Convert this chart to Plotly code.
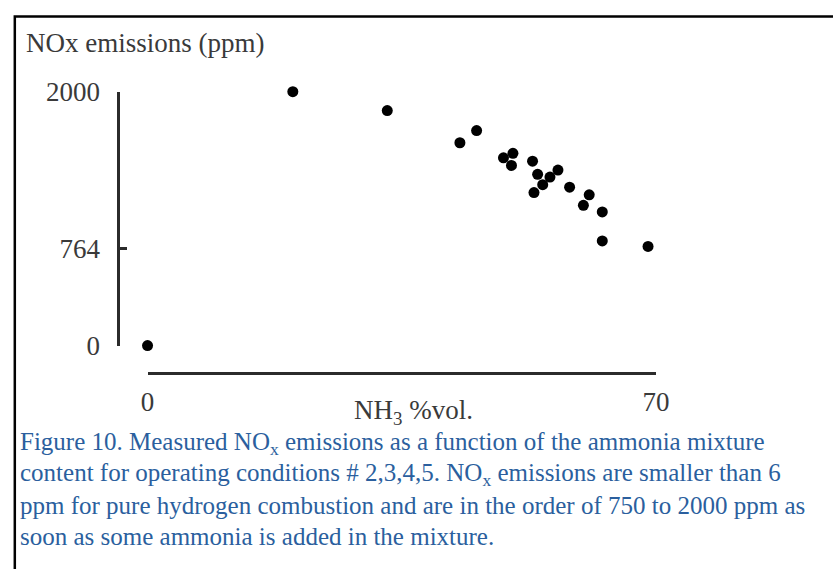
import plotly.graph_objects as go

# Data
nh3_vol = [0, 20.0, 31.9, 33.0, 43.0, 45.3, 49.0, 50.3, 50.1, 53.0, 53.2,
           53.7, 54.4, 55.4, 56.5, 58.1, 60.8, 60.0, 62.6, 62.6, 68.9]
nox_ppm = [0, 2000, 2078, 1852, 1598, 1694, 1479, 1515, 1419, 1453, 1206,
           1349, 1268, 1328, 1383, 1248, 1188, 1105, 1053, 825, 781]
y_ticks = [0, 764, 2000]
x_ticks = [0, 70]

caption_lines = [
    "Figure 10. Measured NO<sub>x</sub> emissions as a function of the ammonia mixture",
    "content for operating conditions # 2,3,4,5. NO<sub>x</sub> emissions are smaller than 6",
    "ppm for pure hydrogen combustion and are in the order of 750 to 2000 ppm as",
    "soon as some ammonia is added in the mixture.",
]

W, H = 833, 569
def px(x):
    return x / W
def py(y):
    return 1 - y / H

FONT = "Liberation Serif, Times New Roman, serif"
AX_COLOR = "#2b2b2b"
TXT_COLOR = "#3a3a3a"
CAP_COLOR = "#2b5f9e"

fig = go.Figure()
fig.add_trace(go.Scatter(
    x=nh3_vol, y=nox_ppm, mode="markers",
    marker=dict(color="black", size=11, line=dict(width=0)),
    cliponaxis=False, showlegend=False,
))

fig.update_layout(
    width=W, height=H,
    margin=dict(l=0, r=0, t=0, b=0),
    paper_bgcolor="white", plot_bgcolor="white",
    font=dict(family=FONT, color=TXT_COLOR),
    xaxis=dict(
        domain=[px(144), px(665)], range=[0, 70],
        anchor="free", position=py(378),
        showgrid=False, zeroline=False,
        showline=True, linecolor=AX_COLOR, linewidth=2.5,
        ticks="inside", ticklen=7, tickwidth=2.5, tickcolor=AX_COLOR,
        tickvals=x_ticks, ticktext=[str(v) for v in x_ticks],
        tickfont=dict(family=FONT, size=27, color=TXT_COLOR),
        ticklabelstandoff=4,
    ),
    yaxis=dict(
        domain=[py(349), py(81)], range=[0, 2000],
        anchor="free", position=px(114),
        showgrid=False, zeroline=False,
        showline=True, linecolor=AX_COLOR, linewidth=2.5,
        ticks="inside", ticklen=7, tickwidth=2.5, tickcolor=AX_COLOR,
        tickvals=y_ticks, ticktext=[str(v) for v in y_ticks],
        tickfont=dict(family=FONT, size=27, color=TXT_COLOR),
        ticklabelstandoff=12,
    ),
)

# Frame (left and top edges visible)
fig.add_shape(type="rect", xref="paper", yref="paper",
              x0=px(8), x1=1.05, y0=-0.05, y1=py(1.5),
              line=dict(color="black", width=2.5), fillcolor="rgba(0,0,0,0)")

# Y-axis title
fig.add_annotation(text="NOx emissions (ppm)", xref="paper", yref="paper",
                   x=px(17), y=py(30), xanchor="left", yanchor="middle",
                   showarrow=False, font=dict(family=FONT, size=27, color=TXT_COLOR))

# X-axis title
fig.add_annotation(text="NH<sub>3</sub> %vol.", xref="paper", yref="paper",
                   x=px(416), y=py(419), xanchor="center", yanchor="middle",
                   showarrow=False, font=dict(family=FONT, size=27, color=TXT_COLOR))

# Caption
cap_y = [452, 485, 518, 551]
for line, yy in zip(caption_lines, cap_y):
    fig.add_annotation(text=line, xref="paper", yref="paper",
                       x=px(11), y=py(yy), xanchor="left", yanchor="middle",
                       showarrow=False, font=dict(family=FONT, size=25, color=CAP_COLOR))

fig.write_html("out.html")
